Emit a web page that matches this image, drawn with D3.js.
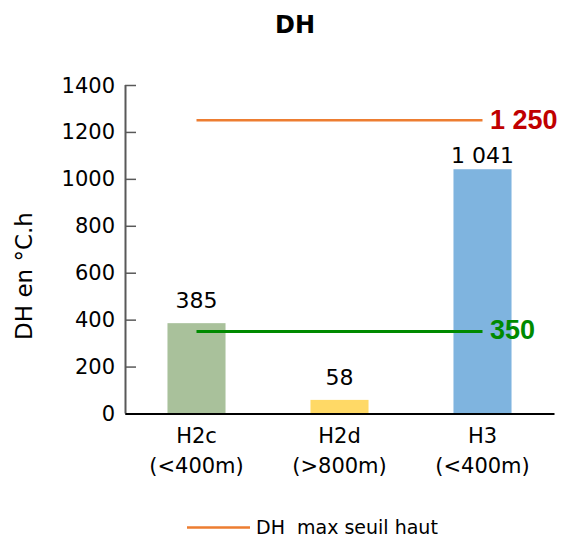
<!DOCTYPE html>
<html>
<head>
<meta charset="utf-8">
<script src="https://cdn.jsdelivr.net/npm/d3@7"></script>
<style>
  html, body { margin: 0; padding: 0; background: #fff; }
  svg { display: block; }
</style>
</head>
<body>
<svg id="chart" width="564" height="537"></svg>
<script>
// ---- data ----
const categoriesLine1 = ["H2c", "H2d", "H3"];
const categoriesLine2 = ["(<400m)", "(>800m)", "(<400m)"];
const values = [385, 58, 1041];
const valueLabels = ["385", "58", "1 041"];
const barColors = ["#a9c19b", "#ffd966", "#7fb4df"];
const yTicks = [0, 200, 400, 600, 800, 1000, 1200, 1400];
const thresholdHigh = 1250;   // DH max seuil haut
const thresholdLow = 350;
const thresholdHighLabel = "1 250";
const thresholdLowLabel = "350";
const chartTitle = "DH";
const yTitle = "DH en °C.h";
const legendLabel = "DH  max seuil haut";

// ---- layout ----
const svg = d3.select("#chart");
const plot = { left: 125, right: 554, top: 85, bottom: 413.5 };
const font = "'DejaVu Sans', sans-serif";

const x = d3.scaleBand()
  .domain(categoriesLine1.map((d, i) => i))
  .range([plot.left, plot.right])
  .paddingInner(0.594)
  .paddingOuter(0.297);

const y = d3.scaleLinear().domain([0, 1400]).range([plot.bottom, plot.top]);

// title
svg.append("text")
  .attr("x", 295).attr("y", 33)
  .attr("text-anchor", "middle")
  .attr("font-family", font).attr("font-weight", "bold")
  .attr("font-size", 24).attr("fill", "#000")
  .text(chartTitle);

// bars
svg.selectAll("rect.bar").data(values).join("rect")
  .attr("class", "bar")
  .attr("x", (d, i) => x(i))
  .attr("width", x.bandwidth())
  .attr("y", d => y(d))
  .attr("height", d => y(0) - y(d))
  .attr("fill", (d, i) => barColors[i]);

// value labels
svg.selectAll("text.val").data(values).join("text")
  .attr("class", "val")
  .attr("x", (d, i) => x(i) + x.bandwidth() / 2)
  .attr("y", (d, i) => y(d) - (i === 2 ? 6 : 15))
  .attr("text-anchor", "middle")
  .attr("font-family", font).attr("font-size", 22).attr("fill", "#000")
  .text((d, i) => valueLabels[i]);

// y axis
const yAxis = d3.axisRight(y).tickValues(yTicks).tickSize(11).tickFormat("");
const yg = svg.append("g").attr("transform", `translate(${plot.left},0)`).call(yAxis);
yg.select(".domain").attr("stroke", "#595959").attr("stroke-width", 2)
  .attr("d", `M0.5,${y(1400)}V${y(0)}`);
yg.selectAll(".tick line").attr("stroke", "#595959").attr("stroke-width", 1.5);

// y tick labels
svg.selectAll("text.ytick").data(yTicks).join("text")
  .attr("class", "ytick")
  .attr("x", 115).attr("y", d => y(d))
  .attr("dy", "0.36em")
  .attr("text-anchor", "end")
  .attr("font-family", font).attr("font-size", 21).attr("fill", "#000")
  .text(d => d);

// x axis
const xAxis = d3.axisBottom(x).tickSize(0).tickFormat("");
const xg = svg.append("g").attr("transform", `translate(0,${y(0)})`).call(xAxis);
xg.select(".domain").attr("stroke", "#000").attr("stroke-width", 2.2);

// x labels
const xl = svg.selectAll("text.xlab").data(categoriesLine1).join("text")
  .attr("class", "xlab")
  .attr("text-anchor", "middle")
  .attr("font-family", font).attr("font-size", 21).attr("fill", "#000");
xl.append("tspan")
  .attr("x", (d, i) => x(i) + x.bandwidth() / 2).attr("y", 443)
  .text(d => d);
xl.append("tspan")
  .attr("x", (d, i) => x(i) + x.bandwidth() / 2).attr("y", 473)
  .text((d, i) => categoriesLine2[i]);

// y title
svg.append("text")
  .attr("transform", `translate(32,276) rotate(-90)`)
  .attr("text-anchor", "middle")
  .attr("font-family", font).attr("font-size", 23).attr("fill", "#000")
  .text(yTitle);

// threshold lines
const xStart = x(0) + x.bandwidth() / 2;
const xEnd = x(2) + x.bandwidth() / 2;
svg.append("line")
  .attr("x1", xStart).attr("x2", xEnd)
  .attr("y1", y(thresholdHigh)).attr("y2", y(thresholdHigh))
  .attr("stroke", "#ed7d31").attr("stroke-width", 2.5);
svg.append("line")
  .attr("x1", xStart).attr("x2", xEnd)
  .attr("y1", y(thresholdLow)).attr("y2", y(thresholdLow))
  .attr("stroke", "#008a00").attr("stroke-width", 3);

svg.append("text")
  .attr("x", 490).attr("y", y(thresholdHigh)).attr("dy", "0.34em")
  .attr("font-family", "'Liberation Sans', Arial, sans-serif")
  .attr("font-weight", "bold").attr("font-size", 27).attr("fill", "#c00000")
  .text(thresholdHighLabel);
svg.append("text")
  .attr("x", 490).attr("y", y(thresholdLow)).attr("dy", "0.3em")
  .attr("font-family", "'Liberation Sans', Arial, sans-serif")
  .attr("font-weight", "bold").attr("font-size", 27).attr("fill", "#008a00")
  .text(thresholdLowLabel);

// legend
svg.append("line")
  .attr("x1", 187).attr("x2", 250).attr("y1", 527.5).attr("y2", 527.5)
  .attr("stroke", "#ed7d31").attr("stroke-width", 2.5);
svg.append("text")
  .attr("x", 256).attr("y", 533.5)
  .attr("font-family", font).attr("font-size", 19).attr("fill", "#000")
  .attr("xml:space", "preserve").style("white-space", "pre")
  .text(legendLabel);
</script>
</body>
</html>
